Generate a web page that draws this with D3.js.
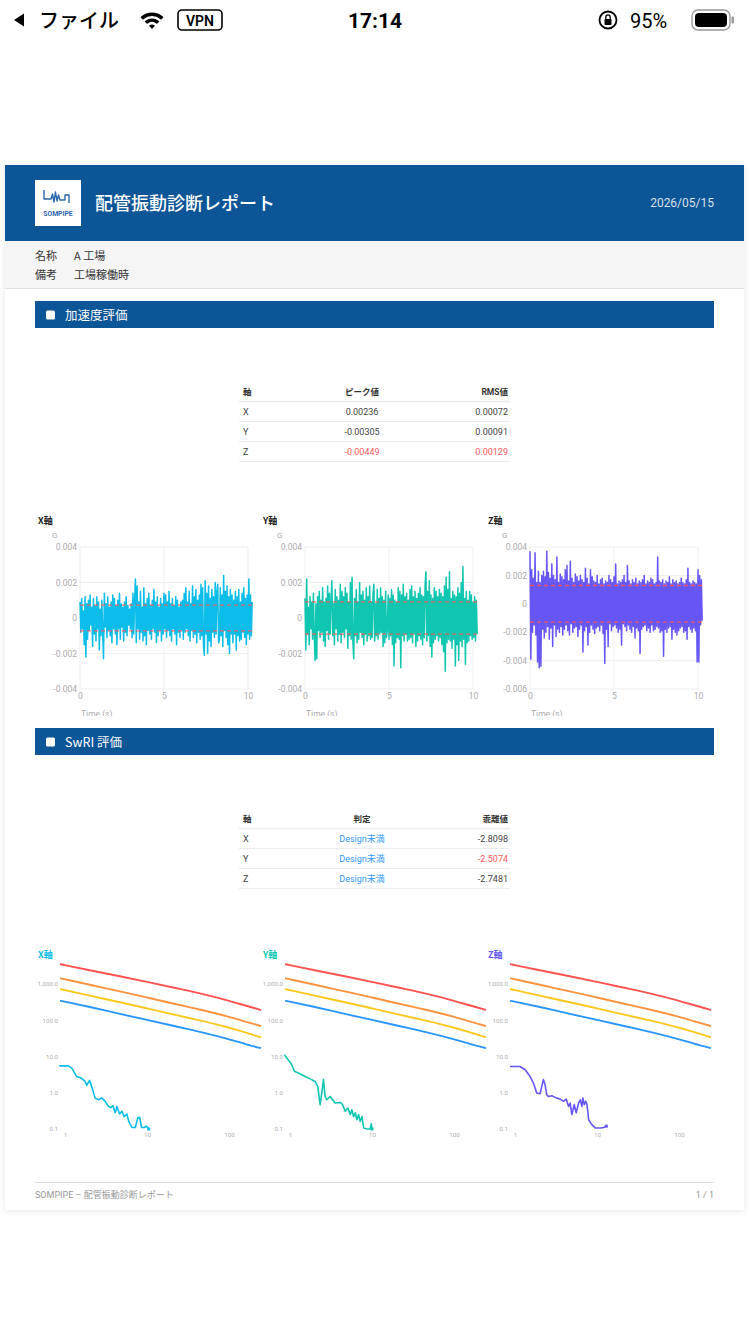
<!DOCTYPE html>
<html><head><meta charset="utf-8">
<script src="https://cdn.jsdelivr.net/npm/d3@7"></script>
<style>
html,body{margin:0;padding:0;background:#fff;}
svg{display:block;}
</style></head><body>
<svg id="c" width="750" height="1334"></svg>
<script>
// ---------------- DATA ----------------
const axisNames = ["X","Y","Z"];
const peakVals = ["0.00236","-0.00305","-0.00449"];
const rmsLabels = ["0.00072","0.00091","0.00129"];
const rmsVals = [0.00072, 0.00091, 0.00129];
const judgeVals = ["Design未満","Design未満","Design未満"];
const devVals = ["-2.8098","-2.5074","-2.7481"];
const infoLabels = ["名称","備考"];
const infoValues = ["A 工場","工場稼働時"];

// acceleration samples, unit 1e-5 G, one sample every 0.05 s
const accUnit = 1e-5;
const accDt = 0.05;
const accX = [90,-80,110,-60,40,-150,120,-220,80,-120,100,-70,130,-40,60,-160,110,-90,70,-130,
120,-60,90,-180,50,-100,100,-80,-230,140,-50,80,-110,120,-70,60,-100,90,-140,130,
-60,110,-90,70,-150,100,-60,140,-120,80,-50,60,-130,90,-80,120,-100,70,-40,50,
-60,80,-110,140,-90,100,220,-140,180,-60,90,-120,150,-80,60,-130,170,-100,80,-150,
110,-70,140,-90,70,-120,100,-60,160,-80,90,-140,120,-100,60,-70,110,-130,80,-90,
140,-60,130,-110,90,-70,150,-100,80,-130,110,-60,70,-90,120,-150,100,-80,60,-110,
90,-70,100,-120,140,-80,170,-60,90,-100,150,-130,80,-70,180,-110,120,-90,160,-140,
100,-80,130,-120,190,-100,170,-150,-210,210,-90,140,-200,180,-130,110,-160,160,-80,120,
-110,200,-90,150,190,-140,-120,170,-100,130,-160,240,-70,150,-110,180,-150,120,-200,160,
-90,130,-140,100,-90,150,-180,120,-100,160,-130,90,-120,140,-80,170,-110,110,-150,130,
-90,220,-120,130,-100,90];
const accY = [110,-180,220,-90,60,-150,120,-60,90,-120,140,-100,-240,80,-230,120,-70,150,-110,100,
-80,170,-130,90,-160,110,-70,180,-120,140,-90,100,210,-100,80,-150,160,-60,120,-130,
100,-90,190,-140,150,-80,120,-110,170,-60,140,-170,90,-100,200,-120,230,-130,-230,110,
-100,160,-140,90,-120,200,-80,130,-110,150,-150,100,-90,170,-130,120,-100,180,-120,90,
-110,140,190,-130,80,-100,160,-120,110,-90,170,-80,120,-160,100,-140,150,-110,-70,130,
-120,110,-100,160,-150,130,-270,100,-140,90,-110,170,-120,150,-280,130,-100,190,-130,120,
-90,140,-130,100,-120,160,-110,180,-140,120,-90,150,-160,110,-130,140,-100,170,-120,130,
-150,120,-110,190,260,-130,150,-100,210,-160,130,-220,110,-140,170,-120,150,-100,120,-130,
160,-110,140,-150,120,-190,180,-300,230,-140,160,-120,260,-130,110,-170,150,-120,130,-270,
120,-150,170,-240,140,-130,200,-160,290,-120,110,-260,150,-140,100,-130,150,-100,130,-120,
90,-110,120,-130,100,-90];
const accZ = [370,-390,240,-200,180,-150,360,-220,150,-410,230,-450,150,-440,200,-180,230,-240,190,-200,
370,-160,220,-250,180,-170,280,-300,200,-150,170,-230,330,-180,150,-200,210,-160,190,-220,
170,-180,240,-150,270,-190,160,-220,300,-140,180,-200,150,-170,210,-160,190,-230,160,-180,
200,-150,170,-340,150,-190,250,-160,180,-290,140,-200,240,-150,190,-180,160,-210,150,-170,
200,-160,140,-190,170,-150,180,-210,140,-420,160,-180,150,-300,200,-140,170,-190,150,-160,
190,-150,280,-170,140,-200,160,-180,150,-290,170,-140,200,-160,150,-190,270,-150,160,-180,
140,-200,170,-160,150,-240,180,-170,140,-190,160,-350,150,-180,170,-160,200,-150,140,-190,
160,-170,150,-200,180,-150,170,-190,140,-180,150,-160,330,-170,160,-200,150,-190,170,-370,
140,-180,160,-200,150,-170,190,-160,140,-250,170,-180,150,-200,160,-220,140,-190,150,-170,
180,-160,150,-200,140,-190,170,-250,250,-160,150,-180,140,-200,160,-170,150,-190,140,-410,
240,-410,200,-150,170,-120];
const accTicksXY = [0.004,0.002,0,-0.002,-0.004];
const accTicksZ = [0.004,0.002,0,-0.002,-0.004,-0.006];
const timeTicks = [0,5,10];

// SwRI criteria curves (frequency Hz -> value)
const critFreq   = [0.87,1,2,5,10,20,50,100,150,200,246];
const critRed    = [3550,3310,2400,1590,1150,810,525,347,263,219,191];
const critOrange = [1445,1350,955,603,427,295,186,126,95,79,69];
const critYellow = [724,676,479,302,214,148,93,63,48,39,34];
const critBlue   = [347,324,234,145,102,72,45,30,23,19,17];
const swriYTicks = [1000,100,10,1,0.1];
const swriXTicks = [1,10,100];

// measured spectra
const measXf = [0.85,1.10,1.21,1.39,1.6,1.76,1.84,1.99,2.18,2.33,2.56,2.81,3.09,3.39,3.62,3.85,4.1,4.3,4.63,4.94,5.27,5.68,6.0,6.55,7.2,7.7,8.14,8.6,9.29,9.8,10.5];
const measXv = [5.5,5.5,4.8,2.8,2.5,2.05,1.6,2.2,1.2,0.71,0.64,0.72,0.58,0.42,0.39,0.44,0.28,0.42,0.26,0.31,0.22,0.26,0.16,0.11,0.11,0.2,0.21,0.11,0.11,0.12,0.1];
const measYf = [0.85,0.95,1.05,1.13,1.26,1.53,1.84,2.02,2.18,2.33,2.44,2.56,2.68,2.81,3.09,3.55,4.1,4.37,4.71,5.09,5.43,5.68,5.96,6.25,6.55,6.87,7.2,7.55,7.92,8.7,9.5,9.8,10.0];
const measYv = [11.1,8.1,5.9,3.9,3.5,2.8,2.3,2.05,1.5,0.47,0.98,2.3,0.79,0.64,0.79,0.52,0.54,0.47,0.31,0.38,0.25,0.34,0.22,0.28,0.18,0.25,0.16,0.22,0.107,0.1,0.1,0.14,0.1];
const measZf = [0.87,1.15,1.33,1.53,1.68,1.84,2.02,2.12,2.22,2.33,2.44,2.56,2.81,3.24,3.55,3.91,4.21,4.5,4.71,4.94,5.27,5.58,5.96,6.25,6.55,6.73,7.0,7.28,7.55,7.92,8.7,9.5,11.0,12.1,13.0];
const measZv = [5.3,5.3,4.3,2.8,1.85,0.98,0.94,1.5,2.3,1.66,0.88,0.79,0.83,0.71,0.67,0.58,0.67,0.42,0.52,0.25,0.47,0.28,0.52,0.64,0.42,0.71,0.47,0.58,0.47,0.18,0.13,0.107,0.107,0.11,0.12];

// ---------------- DRAW ----------------
const FONT = 'Roboto, "Noto Sans CJK JP", sans-serif';
const JP = '"Noto Sans CJK JP", sans-serif';
const BLUE = "#0c5597";
const seriesColors = ["#0bbde8","#10c6b0","#6656f4"];
const svg = d3.select("#c").attr("font-family", FONT);
const defs = svg.append("defs");
const flt = defs.append("filter").attr("id","sh").attr("x","-5%").attr("y","-5%").attr("width","110%").attr("height","110%");
flt.append("feDropShadow").attr("dx",0).attr("dy",1).attr("stdDeviation",3).attr("flood-color","#000").attr("flood-opacity",0.10);

svg.append("rect").attr("width",750).attr("height",1334).attr("fill","#fff");

// ---- status bar ----
const sb = svg.append("g");
sb.append("path").attr("d","M14,20 L24,13.5 L24,26.5 Z").attr("fill","#000");
sb.append("text").attr("x",39).attr("y",28).attr("font-family",JP).attr("font-size",20).attr("font-weight",500).text("ファイル");
const wifiArc = d3.arc().startAngle(-0.78).endAngle(0.78).cornerRadius(1);
[[0,4.5],[7,10.5],[13,16.5]].forEach(r=>{
  sb.append("path").attr("transform","translate(152,29)").attr("d",wifiArc.innerRadius(r[0]).outerRadius(r[1])()).attr("fill","#000");
});
sb.append("rect").attr("x",178).attr("y",10).attr("width",44).attr("height",20).attr("rx",4).attr("fill","none").attr("stroke","#000").attr("stroke-width",1.6);
sb.append("text").attr("x",200).attr("y",25.5).attr("text-anchor","middle").attr("font-size",14).attr("font-weight",600).text("VPN");
sb.append("text").attr("x",375).attr("y",28).attr("text-anchor","middle").attr("font-size",21).attr("font-weight",700).text("17:14");
// rotation lock
sb.append("circle").attr("cx",608).attr("cy",20).attr("r",8.5).attr("fill","none").attr("stroke","#000").attr("stroke-width",1.8);
sb.append("rect").attr("x",604.5).attr("y",19).attr("width",7).attr("height",6).attr("rx",1).attr("fill","#000");
sb.append("path").attr("d","M605.8,19 v-2 a2.2,2.2 0 0 1 4.4,0 v2").attr("fill","none").attr("stroke","#000").attr("stroke-width",1.3);
sb.append("text").attr("x",630).attr("y",28).attr("font-size",20).text("95%");
sb.append("rect").attr("x",692).attr("y",10).attr("width",38).attr("height",20).attr("rx",6).attr("fill","none").attr("stroke","#999").attr("stroke-width",1.4);
sb.append("rect").attr("x",695).attr("y",13).attr("width",32).attr("height",14).attr("rx",4).attr("fill","#000");
sb.append("rect").attr("x",731.5).attr("y",16.5).attr("width",2.5).attr("height",7).attr("rx",1).attr("fill","#999");

// ---- card ----
svg.append("rect").attr("x",5).attr("y",165).attr("width",739).attr("height",1045).attr("fill","#fff").attr("filter","url(#sh)");
svg.append("rect").attr("x",5).attr("y",165).attr("width",739).attr("height",76).attr("fill",BLUE);
// logo
svg.append("rect").attr("x",35).attr("y",180).attr("width",46).attr("height",46).attr("fill","#fff");
svg.append("path").attr("d","M44,190 v9 h7 l1.5,-5 l1.5,8 l1.5,-10 l1.5,9 l1.5,-6 l1.5,5 h5 v-5 h4 v8")
  .attr("fill","none").attr("stroke","#2b66ae").attr("stroke-width",1.4).attr("stroke-linejoin","round");
svg.append("text").attr("x",58).attr("y",215.5).attr("text-anchor","middle").attr("font-size",6.8).attr("font-weight",700).attr("fill","#2b66ae").attr("font-family","Roboto, sans-serif").text("SOMPIPE");
svg.append("text").attr("x",95).attr("y",210).attr("font-family",JP).attr("font-size",18).attr("font-weight",500).attr("fill","#fff").text("配管振動診断レポート");
svg.append("text").attr("x",714).attr("y",207).attr("text-anchor","end").attr("font-size",12).attr("fill","rgba(255,255,255,0.85)").text("2026/05/15");

// info bar
svg.append("rect").attr("x",5).attr("y",241).attr("width",739).attr("height",47).attr("fill","#f5f5f5");
svg.append("line").attr("x1",5).attr("x2",744).attr("y1",288.5).attr("y2",288.5).attr("stroke","#e2e2e2");
const infoY = d3.scalePoint().domain(infoLabels).range([260,279]);
infoLabels.forEach((l,i)=>{
  svg.append("text").attr("x",35).attr("y",infoY(l)).attr("font-family",JP).attr("font-size",11).attr("fill","#333").text(l);
  svg.append("text").attr("x",74).attr("y",infoY(l)).attr("font-family",JP).attr("font-size",11).attr("fill","#333").text(infoValues[i]);
});

// section headers
function section(y, label){
  svg.append("rect").attr("x",35).attr("y",y).attr("width",679).attr("height",27).attr("fill",BLUE);
  svg.append("rect").attr("x",46).attr("y",y+9.5).attr("width",9).attr("height",9).attr("rx",1.5).attr("fill","#fff");
  svg.append("text").attr("x",65).attr("y",y+18.5).attr("font-family",JP).attr("font-size",12.5).attr("fill","#fff").text(label);
}
section(301, "加速度評価");
section(728, "SwRI 評価");

// tables
function table(top, headers, cols, colors){
  const rows = d3.scaleBand().domain(d3.range(4)).range([top, top+80]);
  const colX = [243, 362, 508];
  const anchors = ["start","middle","end"];
  headers.forEach((h,j)=>{
    svg.append("text").attr("x",colX[j]).attr("y",rows(0)+13.5).attr("text-anchor",anchors[j])
      .attr("font-size",8.5).attr("font-weight",700).attr("fill","#333").text(h);
  });
  for(let i=1;i<4;i++){
    svg.append("line").attr("x1",239).attr("x2",510).attr("y1",rows(i)+0.5).attr("y2",rows(i)+0.5)
      .attr("stroke","#ececec").attr("stroke-width", i===1?1.5:1);
    cols.forEach((c,j)=>{
      svg.append("text").attr("x",colX[j]).attr("y",rows(i)+13.5).attr("text-anchor",anchors[j])
        .attr("font-size",9).attr("fill",colors[j][i-1]).text(c[i-1]);
    });
  }
  svg.append("line").attr("x1",239).attr("x2",510).attr("y1",top+80.5).attr("y2",top+80.5).attr("stroke","#ececec");
}
const RED = "#ff5a5a", TXT="#444", LINK="#3399ff";
table(381, ["軸","ピーク値","RMS値"], [axisNames, peakVals, rmsLabels],
  [[TXT,TXT,TXT],[TXT,TXT,RED],[TXT,TXT,RED]]);
table(808, ["軸","判定","乖離値"], [axisNames, judgeVals, devVals],
  [[TXT,TXT,TXT],[LINK,LINK,LINK],[TXT,RED,TXT]]);

// acceleration charts
const accData = [accX, accY, accZ];
const chartX = [30, 255, 480];
defs.append("clipPath").attr("id","accclip").append("rect").attr("x",0).attr("y",505).attr("width",750).attr("height",211);
accData.forEach((data,k)=>{
  const ox = chartX[k];
  const g = svg.append("g").attr("clip-path","url(#accclip)");
  const ticks = k===2 ? accTicksZ : accTicksXY;
  const x = d3.scaleLinear().domain([0,10]).range([ox+50, ox+218]);
  const y = d3.scaleLinear().domain(d3.extent(ticks)).range([689, 547]);
  g.selectAll(".hg").data(ticks).join("line").attr("x1",x(0)).attr("x2",x(10)).attr("y1",d=>y(d)).attr("y2",d=>y(d)).attr("stroke","#efefef");
  g.selectAll(".vg").data(timeTicks).join("line").attr("x1",d=>x(d)).attr("x2",d=>x(d)).attr("y1",547).attr("y2",689).attr("stroke","#efefef");
  const ya = g.append("g").attr("transform",`translate(${x(0)},0)`)
    .call(d3.axisLeft(y).tickValues(ticks).tickSize(0).tickPadding(3).tickFormat(d=>d===0?"0":d.toFixed(3)));
  const xa = g.append("g").attr("transform",`translate(0,${y(ticks[ticks.length-1])})`)
    .call(d3.axisBottom(x).tickValues(timeTicks).tickSize(0).tickPadding(4).tickFormat(d=>String(d)));
  [ya,xa].forEach(a=>{ a.select(".domain").remove(); a.selectAll("text").attr("font-size",8.5).attr("fill","#aaa").attr("font-family",FONT); });
  g.append("text").attr("x",ox+8).attr("y",524).attr("font-family",JP).attr("font-size",9).attr("font-weight",700).attr("fill","#222").text(axisNames[k]+"軸");
  g.append("text").attr("x",ox+22).attr("y",538).attr("font-size",8).attr("fill","#aaa").text("G");
  g.append("text").attr("x",ox+51).attr("y",717).attr("font-size",8.5).attr("fill","#aaa").text("Time (s)");
  const line = d3.line().x((d,i)=>x(i*accDt)).y(d=>y(d*accUnit));
  g.append("path").datum(data).attr("d",line).attr("fill","none").attr("stroke",seriesColors[k]).attr("stroke-width",1.5).attr("stroke-linejoin","round");
  const tEnd = (data.length-1)*accDt;
  [rmsVals[k], -rmsVals[k]].forEach(v=>{
    g.append("line").attr("x1",x(0)).attr("x2",x(tEnd)).attr("y1",y(v)).attr("y2",y(v))
      .attr("stroke","rgba(255,85,85,0.85)").attr("stroke-width",1.3).attr("stroke-dasharray","4,3");
  });
});

// SwRI charts
const critSets = [[critRed,"#ff5252"],[critOrange,"#ff9340"],[critYellow,"#ffc81e"],[critBlue,"#2a95ff"]];
const meas = [[measXf,measXv],[measYf,measYv],[measZf,measZv]];
meas.forEach((m,k)=>{
  const ox = chartX[k];
  const g = svg.append("g");
  const x = d3.scaleLog().domain([1,100]).range([ox+35, ox+199]);
  const y = d3.scaleLog().domain([0.1,1000]).range([1129, 984]);
  const ya = g.append("g").attr("transform",`translate(${ox+29},0)`)
    .call(d3.axisLeft(y).tickValues(swriYTicks).tickSize(0).tickPadding(1).tickFormat(d3.format(",.1f")));
  const xa = g.append("g").attr("transform",`translate(0,1133)`)
    .call(d3.axisBottom(x).tickValues(swriXTicks).tickSize(0).tickPadding(0).tickFormat(d3.format("d")));
  [ya,xa].forEach(a=>{ a.select(".domain").remove(); a.selectAll("text").attr("font-size",6.2).attr("fill","#b0b0b0").attr("font-family",FONT); });
  g.append("text").attr("x",ox+8).attr("y",958).attr("font-family",JP).attr("font-size",9).attr("font-weight",700).attr("fill",seriesColors[k]).text(axisNames[k]+"軸");
  const line = d3.line().x(d=>x(d[0])).y(d=>y(d[1])).curve(d3.curveBasis);
  critSets.forEach(([vals,col])=>{
    g.append("path").datum(critFreq.map((f,i)=>[f,vals[i]])).attr("d",line).attr("fill","none").attr("stroke",col).attr("stroke-width",1.9);
  });
  const pts = m[0].map((f,i)=>[f,m[1][i]]);
  g.append("path").datum(pts).attr("d",d3.line().x(d=>x(d[0])).y(d=>y(d[1]))).attr("fill","none").attr("stroke",seriesColors[k]).attr("stroke-width",1.6).attr("stroke-linejoin","round");
  const last = pts[pts.length-1];
  g.append("rect").attr("x",x(last[0])-1.5).attr("y",y(last[1])-1.5).attr("width",3).attr("height",3).attr("fill",seriesColors[k]);
});

// footer
svg.append("line").attr("x1",35).attr("x2",714).attr("y1",1182.5).attr("y2",1182.5).attr("stroke","#dcdcdc");
svg.append("text").attr("x",35).attr("y",1198).attr("font-size",9).attr("fill","#999").text("SOMPIPE – 配管振動診断レポート");
svg.append("text").attr("x",714).attr("y",1198).attr("text-anchor","end").attr("font-size",9).attr("fill","#999").text("1 / 1");
</script>
</body></html>
